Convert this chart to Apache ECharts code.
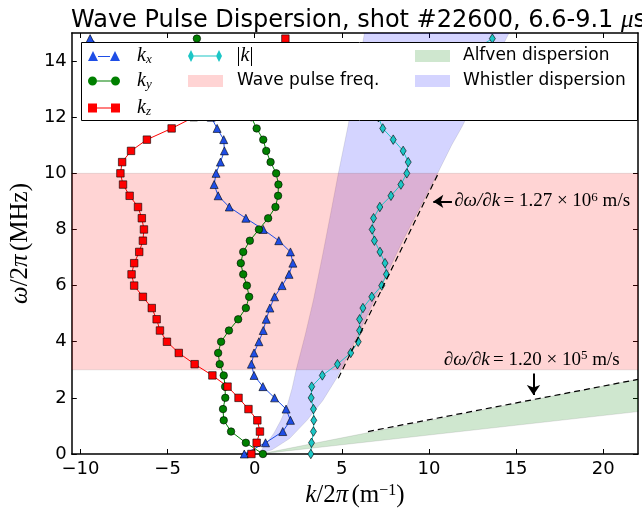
<!DOCTYPE html>
<html><head><meta charset="utf-8">
<script src="https://cdn.jsdelivr.net/npm/echarts@6/dist/echarts.min.js"></script>
<style>html,body{margin:0;padding:0;background:#fff}#c{width:642px;height:514px}</style>
</head><body><div id="c"></div>
<script>
// frequency samples (MHz), 0.4 MHz spacing
const freq = [0,0.4,0.8,1.2,1.6,2.0,2.4,2.8,3.2,3.6,4.0,4.4,4.8,5.2,5.6,6.0,6.4,6.8,7.2,7.6,8.0,8.4,8.8,9.2,9.6,10.0,10.4,10.8,11.2,11.6,12.0,12.4,12.8,13.2,13.6,14.0,14.4,14.8];
const kx = [-0.6,0.62,1.61,2.05,1.80,1.14,0.47,-0.04,-0.19,-0.04,0.24,0.49,0.66,0.87,1.14,1.57,1.97,2.19,2.05,1.38,0.49,-0.51,-1.46,-2.10,-2.33,-2.22,-1.97,-1.74,-1.78,-2.16,-2.5,-3.2,-4.2,-5.3,-6.5,-7.6,-8.6,-9.45];
const ky = [0.47,-0.51,-1.36,-1.78,-1.82,-1.69,-1.70,-1.78,-2.01,-2.10,-1.93,-1.48,-0.95,-0.51,-0.32,-0.45,-0.66,-0.80,-0.66,-0.28,0.24,0.77,1.19,1.34,1.36,1.23,0.91,0.66,0.49,0.11,-0.2,-0.6,-1.1,-1.6,-2.1,-2.6,-3.0,-3.32];
const kz = [-0.19,0.11,0.30,0.15,-0.36,-0.93,-1.56,-2.43,-3.45,-4.36,-5.04,-5.44,-5.63,-5.91,-6.42,-6.92,-7.07,-6.92,-6.63,-6.42,-6.36,-6.48,-6.70,-7.18,-7.56,-7.71,-7.61,-7.10,-6.19,-4.77,-3.5,-2.3,-1.2,-0.3,0.5,1.1,1.5,1.76];
const kmag = [3.22,3.26,3.37,3.39,3.37,3.24,3.27,3.88,4.75,5.51,5.94,6.02,6.02,6.21,6.72,7.29,7.56,7.48,7.19,6.87,6.74,6.82,7.18,7.82,8.39,8.73,8.81,8.52,7.95,7.35,7.1,7.4,8.2,9.3,10.5,11.6,12.6,13.64];

const xTicks = [-10,-5,0,5,10,15,20];
const yTicks = [0,2,4,6,8,10,12,14];

const pulseBand = [3,10];
const whistlerLeft = [[0.2,0],[0.53,0.26],[1.1,0.74],[1.5,1.2],[1.85,1.69],[2.15,2.35],[2.38,3.0],[2.9,4.25],[3.37,5.49],[3.9,7.1],[4.4,8.7],[4.8,10.0],[5.36,11.7],[6.3,15]];
const whistlerRight = [[14.6,15],[13.2,13.3],[11.9,11.66],[11.3,11.0],[10.5,10.0],[9.5,8.8],[8.5,7.6],[7.5,6.3],[6.5,5.0],[5.5,3.7],[4.7,2.7],[3.9,1.9],[3.0,1.2],[2.0,0.55],[1.0,0.15],[0.2,0]];
const alfvenUpper = [[0.3,0],[22,2.66]];
const alfvenLower = [[0.3,0],[22,1.51]];
const whistlerSlope = [[4.8,2.7],[10.5,9.95]];
const alfvenSlope = [[6.5,0.8],[22,2.66]];

const BLUE='#1f4ee6', GREEN='#008000', RED='#ff0000', CYAN='#1cc6c6';
const PINK='rgba(255,0,0,0.17)', LBLUE='rgba(0,0,255,0.17)', LGREEN='rgba(0,128,0,0.19)';
const XMIN=-10.5, XMAX=22, YMIN=0, YMAX=15;

const pairs = arr => arr.map((v,i)=>[v,freq[i]]);
const minus = v => v<0 ? '\u2212'+Math.abs(v) : String(v);

function poly(name, pts, color){
  return {type:'custom', name, coordinateSystem:'cartesian2d', clip:true, silent:true, z:1,
    data: pts, encode:{x:0,y:1}, itemStyle:{color},
    renderItem:(p,api)=> p.dataIndex===0 ? {type:'polygon', shape:{points: pts.map(q=>api.coord(q))},
      style:{fill:color, stroke:'rgba(0,0,0,0.12)', lineWidth:0.8}} : null};
}
function ln(name, data, color, symbol, size){
  return {type:'line', name, data:pairs(data), symbol, symbolSize:size, z:3,
    lineStyle:{color, width:1}, itemStyle:{color, borderColor:'#000', borderWidth:0.6}, emphasis:{disabled:true}};
}
const serif='Liberation Serif';
const rich = {
  i:{fontFamily:serif, fontStyle:'italic', fontSize:20, color:'#000'},
  s:{fontFamily:serif, fontStyle:'italic', fontSize:13, color:'#000', padding:[8,0,0,0]},
  r:{fontFamily:serif, fontSize:20, color:'#000'}
};
const nameRich = {
  i:{fontFamily:serif, fontStyle:'italic', fontSize:25, color:'#000'},
  r:{fontFamily:serif, fontSize:25, color:'#000'},
  sup:{fontFamily:serif, fontSize:16, color:'#000', verticalAlign:'top', padding:[0,0,9,0]}
};
function lg(name, icon, left, cy, w, h, pad, fmt){
  return {data:[{name, icon}], left, top: cy-11, itemWidth:w, itemHeight:h, padding:0, selectedMode:false, z:20,
    itemStyle:{borderWidth:0},
    formatter: fmt || (n=>n),
    textStyle:{fontFamily:'DejaVu Sans', fontSize:17, color:'#000', lineHeight:22, padding:[0,0,0,pad], rich}};
}
const triIcon='path://M0,10L5,0L10,10Z M10,5H22V6H10Z M22,10L27,0L32,10Z';
const circIcon='path://M0,4.5A4.5,4.5,0,1,0,9,4.5A4.5,4.5,0,1,0,0,4.5Z M9,4H23V5H9Z M23,4.5A4.5,4.5,0,1,0,32,4.5A4.5,4.5,0,1,0,23,4.5Z';
const sqIcon='path://M0,0H9V9H0Z M9,4H23V5H9Z M23,0H32V9H23Z';
const diaIcon='path://M3,0L6,6L3,12L0,6Z M6,5.5H28V6.5H6Z M31,0L34,6L31,12L28,6Z';

const axisCommon = {
  axisLine:{onZero:false, lineStyle:{color:'#000', width:1.5}},
  splitLine:{show:false}
};
const tickLbl = {fontFamily:'DejaVu Sans', fontSize:18, color:'#000'};
const annRich = {
  i:{fontFamily:serif, fontStyle:'italic', fontSize:19, color:'#000'},
  r:{fontFamily:serif, fontSize:19, color:'#000'},
  p:{fontFamily:serif, fontSize:13, color:'#000', verticalAlign:'top', padding:[0,0,8,0]}
};

const chart = echarts.init(document.getElementById('c'), null, {renderer:'canvas'});
chart.setOption({
  animation:false,
  backgroundColor:'#fff',
  title:{text:'Wave Pulse Dispersion, shot #22600, 6.6-9.1 {mu|\u03bc}s', left:66, top:3,
    textStyle:{fontFamily:'DejaVu Sans', fontSize:24, fontWeight:'normal', color:'#000',
      rich:{mu:{fontFamily:serif, fontStyle:'italic', fontSize:25, color:'#000'}}}},
  grid:{left:66, right:4, top:33, bottom:60, containLabel:false},
  xAxis:[
    Object.assign({type:'value', min:XMIN, max:XMAX, position:'bottom',
      axisTick:{inside:true, length:5, customValues:xTicks, lineStyle:{color:'#000'}},
      axisLabel:{customValues:xTicks, formatter:minus, margin:6, ...tickLbl},
      name:'{i|k}{r|/2}{i|\u03c0} {r|(m}{sup|\u22121}{r|)}', nameLocation:'middle', nameGap:26,
      nameTextStyle:{rich:nameRich}}, axisCommon),
    Object.assign({type:'value', min:XMIN, max:XMAX, position:'top',
      axisTick:{inside:true, length:5, customValues:xTicks, lineStyle:{color:'#000'}},
      axisLabel:{show:false}}, axisCommon)
  ],
  yAxis:[
    Object.assign({type:'value', min:YMIN, max:YMAX, position:'left',
      axisTick:{inside:true, length:5, customValues:yTicks, lineStyle:{color:'#000'}},
      axisLabel:{customValues:yTicks, margin:5, ...tickLbl},
      name:'{i|\u03c9}{r|/2}{i|\u03c0} {r|(MHz)}', nameLocation:'middle', nameGap:36, nameRotate:90,
      nameTextStyle:{rich:nameRich}}, axisCommon),
    Object.assign({type:'value', min:YMIN, max:YMAX, position:'right',
      axisTick:{inside:true, length:5, customValues:yTicks, lineStyle:{color:'#000'}},
      axisLabel:{show:false}}, axisCommon)
  ],
  legend:[
    lg('kx', triIcon, 88, 56, 32, 10, 12, ()=>'{i|k}{s|x}'),
    lg('ky', circIcon, 88, 81, 32, 9, 12, ()=>'{i|k}{s|y}'),
    lg('kz', sqIcon, 88, 108, 32, 9, 12, ()=>'{i|k}{s|z}'),
    lg('|k|', diaIcon, 188, 56, 35, 12, 9, ()=>'{r||}{i|k}{r||}'),
    lg('Wave pulse freq.', 'rect', 188, 81, 35, 12, 9),
    lg('Alfven dispersion', 'rect', 415, 56, 35, 12, 8),
    lg('Whistler dispersion', 'rect', 415, 81, 35, 12, 8)
  ],
  graphic:[{type:'rect', z:10, silent:true, shape:{x:81.5, y:42.5, width:556, height:78},
    style:{fill:'#fff', stroke:'#000', lineWidth:1}}],
  series:[
    poly('Alfven dispersion', alfvenUpper.concat(alfvenLower.slice().reverse()), LGREEN),
    poly('Whistler dispersion', whistlerLeft.concat(whistlerRight), LBLUE),
    poly('Wave pulse freq.', [[XMIN,pulseBand[0]],[XMAX,pulseBand[0]],[XMAX,pulseBand[1]],[XMIN,pulseBand[1]]], PINK),
    ln('kx', kx, BLUE, 'triangle', 8),
    ln('ky', ky, GREEN, 'circle', 7.5),
    ln('kz', kz, RED, 'rect', 7.5),
    ln('|k|', kmag, CYAN, 'diamond', [6,9.5]),
    {type:'line', name:'whistler slope', data:whistlerSlope, symbol:'none', z:4, silent:true,
      lineStyle:{color:'#000', width:1.2, type:[6,4]},
      markLine:{silent:true, symbol:['none','arrow'], symbolSize:10, label:{show:false},
        lineStyle:{color:'#000', width:2, type:'solid'},
        data:[[{coord:[11.32,9.0]},{coord:[10.25,9.0]}], [{coord:[16,2.87]},{coord:[16,2.1]}]]},
      markPoint:{silent:true, symbol:'circle', symbolSize:0,
        data:[
          {coord:[11.45,9.0], label:{show:true, position:'right', distance:0,
            formatter:'{i|\u2202\u03c9/\u2202k} {r|= 1.27 \u00d7 10}{p|6}{r| m/s}', rich:annRich}},
          {coord:[15.9,3.35], label:{show:true, position:'inside',
            formatter:'{i|\u2202\u03c9/\u2202k} {r|= 1.20 \u00d7 10}{p|5}{r| m/s}', rich:annRich}}
        ]}},
    {type:'line', name:'alfven slope', data:alfvenSlope, symbol:'none', z:4, silent:true,
      lineStyle:{color:'#000', width:1.2, type:[6,4]}}
  ]
});
</script></body></html>
